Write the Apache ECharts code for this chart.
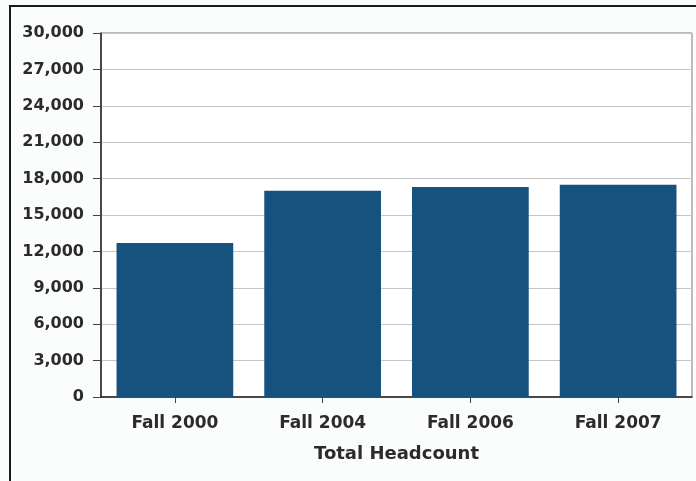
<!DOCTYPE html>
<html>
<head>
<meta charset="utf-8">
<script src="https://cdn.jsdelivr.net/npm/echarts@6/dist/echarts.min.js"></script>
<style>
html,body{margin:0;padding:0;background:#fbfcfc;}
#main{width:696px;height:481px;}
</style>
</head>
<body>
<div id="main"></div>
<script>
var categories = ['Fall 2000', 'Fall 2004', 'Fall 2006', 'Fall 2007'];
var headcount = [12700, 17000, 17300, 17500];
var axisName = 'Total Headcount';

var chart = echarts.init(document.getElementById('main'));
chart.setOption({
  backgroundColor: '#fbfcfc',
  animation: false,
  graphic: [{
    type: 'rect',
    shape: {x: 10, y: 6, width: 700, height: 490},
    style: {fill: 'none', stroke: '#1a1a1a', lineWidth: 2},
    z: 0
  }],
  grid: {
    left: 101, right: 4, top: 33, bottom: 84,
    show: true, backgroundColor: '#ffffff', borderColor: '#7a7a7a', borderWidth: 1
  },
  xAxis: {
    type: 'category',
    data: categories,
    name: axisName,
    nameLocation: 'middle',
    nameGap: 48,
    nameTextStyle: {fontFamily: 'DejaVu Sans', fontWeight: 'bold', fontSize: 18, color: '#2b2b2b'},
    axisLine: {lineStyle: {color: '#222', width: 1.5}},
    axisTick: {show: true, alignWithLabel: true, length: 6, lineStyle: {color: '#444'}},
    axisLabel: {margin: 18, fontFamily: 'DejaVu Sans', fontWeight: 'bold', fontSize: 17, color: '#2b2b2b'}
  },
  yAxis: {
    type: 'value',
    min: 0, max: 30000, interval: 3000,
    axisLine: {show: true, lineStyle: {color: '#222', width: 1.5}},
    axisTick: {show: true, length: 8, lineStyle: {color: '#444'}},
    axisLabel: {
      margin: 17, fontFamily: 'DejaVu Sans', fontWeight: 'bold', fontSize: 16, color: '#2b2b2b',
      formatter: function (v) { return v.toLocaleString('en-US'); }
    },
    splitLine: {lineStyle: {color: '#c4c4c4', width: 1}}
  },
  series: [{
    type: 'bar',
    data: headcount,
    barCategoryGap: '21%',
    itemStyle: {color: '#17527f'}
  }]
});
</script>
</body>
</html>
